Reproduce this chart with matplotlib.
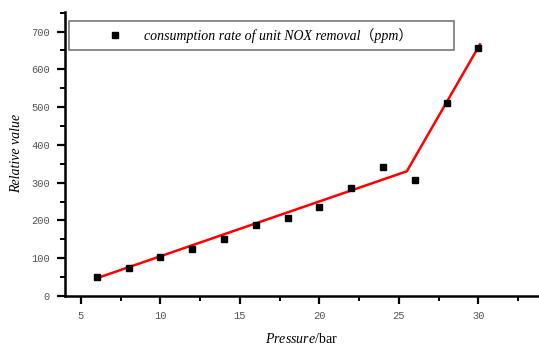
import matplotlib.pyplot as plt
from matplotlib.ticker import MultipleLocator

plt.rcParams['mathtext.fontset'] = 'custom'
plt.rcParams['mathtext.rm'] = 'Liberation Serif'
plt.rcParams['mathtext.it'] = 'Liberation Serif:italic'

# measured points
pressure = [6, 8, 10, 12, 14, 16, 18, 20, 22, 24, 26, 28, 30]
rate = [50, 75, 103, 123, 150, 188, 206, 235, 287, 342, 308, 512, 657]

# piecewise linear fit (two segments)
fit_x = [6, 25.5, 30.1]
fit_y = [47, 330, 666]

x_ticks = [5, 10, 15, 20, 25, 30]
y_ticks = [0, 100, 200, 300, 400, 500, 600, 700]

fig = plt.figure(figsize=(5.39, 3.49), dpi=100)
ax = fig.add_axes([0.1206, 0.152, 0.879, 0.814])

ax.plot(fit_x, fit_y, color='#ff0000', linewidth=1.8, zorder=2)
ax.plot(pressure, rate, linestyle='none', marker='s', markersize=5,
        color='black', label='consumption rate of unit NOX removal（ppm）', zorder=3)

ax.set_xlim(4, 33.8)
ax.set_ylim(0, 752)
ax.set_xticks(x_ticks)
ax.set_yticks(y_ticks)
ax.xaxis.set_minor_locator(MultipleLocator(2.5))
ax.yaxis.set_minor_locator(MultipleLocator(50))

for side in ['top', 'right']:
    ax.spines[side].set_visible(False)
for side in ['left', 'bottom']:
    ax.spines[side].set_linewidth(1.8)

ax.tick_params(which='major', direction='out', length=6, width=1.6,
               labelsize=7.5, labelcolor='#555555', pad=5)
ax.tick_params(which='minor', direction='out', length=3.5, width=1.4)
for lbl in ax.get_xticklabels() + ax.get_yticklabels():
    lbl.set_fontfamily('Liberation Mono')

ax.set_xlabel(r'$\mathit{Pressure}$/bar', fontsize=10, fontfamily='Liberation Serif',
              labelpad=8)
ax.set_ylabel('Relative value', fontsize=10, fontfamily='Liberation Serif',
              fontstyle='italic', labelpad=6)

leg = ax.legend(loc='upper left', bbox_to_anchor=(0.0084, 0.968, 0.8126, 0),
                mode='expand', borderaxespad=0, frameon=True, fancybox=False,
                handlelength=5.6, handletextpad=-0.7, borderpad=0.5,
                prop={'family': ['Liberation Serif', 'Noto Sans CJK SC'],
                      'style': 'italic', 'size': 10})
leg.get_frame().set_edgecolor('#555555')
leg.get_frame().set_linewidth(1.2)

fig.savefig('out.png', dpi=100)
